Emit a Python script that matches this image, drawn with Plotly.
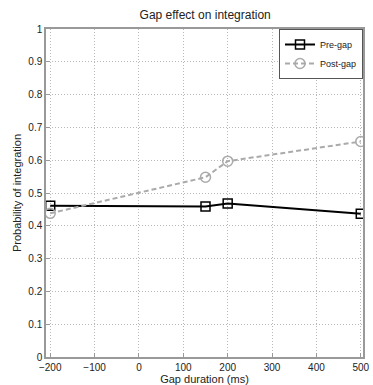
import plotly.graph_objects as go

gap_ms = [-200, 150, 200, 500]
pre_gap = [0.461, 0.459, 0.468, 0.437]
post_gap = [0.438, 0.548, 0.597, 0.657]
x_ticks = [-200, -100, 0, 100, 200, 300, 400, 500]
y_ticks = [0, 0.1, 0.2, 0.3, 0.4, 0.5, 0.6, 0.7, 0.8, 0.9, 1]
y_tick_text = ["0", "0.1", "0.2", "0.3", "0.4", "0.5", "0.6", "0.7", "0.8", "0.9", "1"]

font = "Liberation Sans, Arial, sans-serif"

fig = go.Figure()
fig.add_trace(go.Scatter(
    x=gap_ms, y=pre_gap, name="Pre-gap", mode="lines+markers",
    line=dict(color="black", width=2),
    marker=dict(symbol="square-open", size=9, color="black", line=dict(width=1.5)),
))
fig.add_trace(go.Scatter(
    x=gap_ms, y=post_gap, name="Post-gap", mode="lines+markers",
    line=dict(color="#aaaaaa", width=2, dash="5px,3px"),
    marker=dict(symbol="circle-open", size=10, color="#aaaaaa", line=dict(width=1.5)),
))

axis_common = dict(
    showgrid=True, gridcolor="#b8b8b8", griddash="1px,2px", gridwidth=1,
    showline=True, linecolor="#999999", linewidth=1.5, mirror=True,
    ticks="inside", ticklen=4, tickcolor="#999999",
    zeroline=False, tickfont=dict(size=10, color="#222222", family=font),
    ticklabeloverflow="allow",
)

fig.update_layout(
    width=373, height=385,
    margin=dict(l=46, r=3, t=29, b=28),
    paper_bgcolor="white", plot_bgcolor="white",
    font=dict(family=font, color="#222222"),
    title=dict(text="Gap effect on integration", x=0.55, xanchor="center",
               y=0.962, yanchor="middle", font=dict(size=12, family=font, color="#222222")),
    showlegend=True,
    legend=dict(x=1.0, y=1.0, xanchor="right", yanchor="top",
                bordercolor="#555555", borderwidth=1, bgcolor="white",
                font=dict(size=9, family=font, color="#222222"),
                tracegroupgap=0, itemwidth=30),
)
fig.update_xaxes(range=[-209.5, 505], tickvals=x_ticks, ticklabelstandoff=0,
                 title=dict(text="Gap duration (ms)", standoff=0, font=dict(size=11, family=font)),
                 **axis_common)
fig.update_yaxes(range=[0, 1], tickvals=y_ticks, ticktext=y_tick_text,
                 title=dict(text="Probability of integration", standoff=4, font=dict(size=11, family=font)),
                 **axis_common)

fig.write_html("out.html", config={"displayModeBar": False},
               post_script="document.body.style.margin='0';document.body.style.overflow='hidden';")
